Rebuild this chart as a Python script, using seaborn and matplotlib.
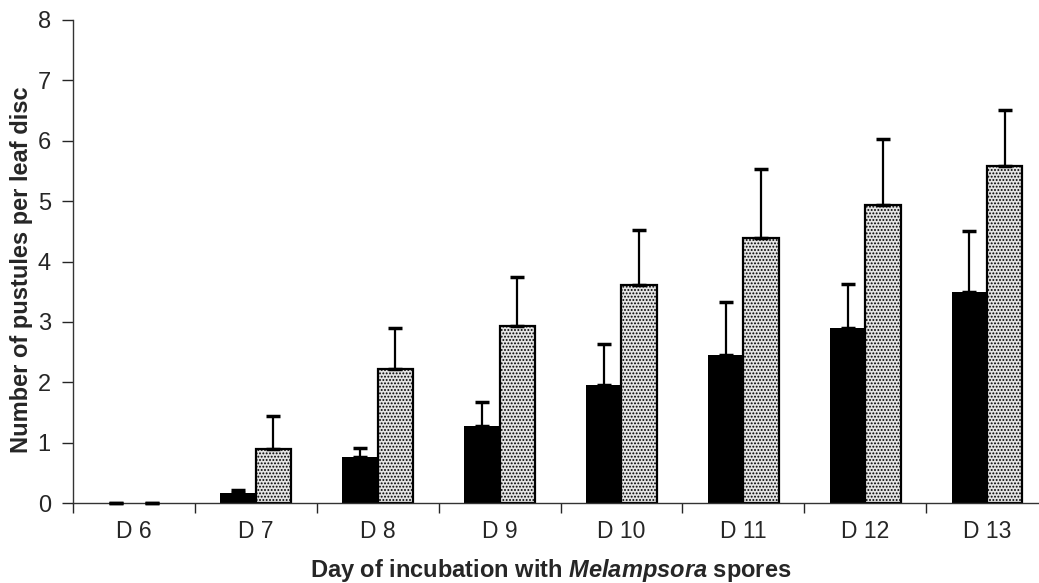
import matplotlib
matplotlib.use("Agg")
import matplotlib.pyplot as plt
import seaborn as sns
import pandas as pd
import numpy as np

days = ["D 6", "D 7", "D 8", "D 9", "D 10", "D 11", "D 12", "D 13"]
series_names = ["Series 1", "Series 2"]
black_vals = [0.0, 0.17, 0.76, 1.27, 1.95, 2.45, 2.90, 3.49]
black_err = [0.0, 0.05, 0.15, 0.40, 0.68, 0.88, 0.73, 1.02]
dotted_vals = [0.0, 0.89, 2.22, 2.93, 3.61, 4.39, 4.93, 5.58]
dotted_err = [0.0, 0.55, 0.68, 0.81, 0.91, 1.14, 1.10, 0.93]
y_ticks = [0, 1, 2, 3, 4, 5, 6, 7, 8]

sns.set_theme(style="white")
plt.rcParams["font.family"] = ["Liberation Sans", "DejaVu Sans"]
plt.rcParams["mathtext.fontset"] = "custom"
plt.rcParams["mathtext.it"] = "Liberation Sans:italic:bold"
plt.rcParams["mathtext.rm"] = "Liberation Sans:bold"
plt.rcParams["hatch.linewidth"] = 0.9

df = pd.DataFrame({
    "day": days * 2,
    "series": [series_names[0]] * len(days) + [series_names[1]] * len(days),
    "value": black_vals + dotted_vals,
})

fig = plt.figure(figsize=(10.39, 5.83), dpi=100)
ax = fig.add_axes([73 / 1039, 80 / 583, (1048 - 73) / 1039, (503 - 20) / 583])

sns.barplot(data=df, x="day", y="value", hue="series", order=days,
            hue_order=series_names, palette=["black", "white"],
            width=0.58, errorbar=None, legend=False, ax=ax,
            edgecolor="black", linewidth=1.6, saturation=1)

n = len(days)
patches = [p for p in ax.patches if hasattr(p, "get_x")][:2 * n]
for i, p in enumerate(patches):
    if i >= n:
        p.set_hatch(".....")
        p.set_facecolor("#e4e4e4")
        if dotted_vals[i - n] == 0:
            p.set_linewidth(0)
    else:
        p.set_linewidth(0)
errs = black_err + dotted_err
vals = black_vals + dotted_vals
for p, v, e in zip(patches, vals, errs):
    cx = p.get_x() + p.get_width() / 2
    ax.errorbar([cx], [v], yerr=[[0], [e]], fmt="none", ecolor="black",
                elinewidth=1.6, capsize=5, capthick=2.5, zorder=5, clip_on=False)

ax.set_ylim(0, 8)
ax.set_xlim(-0.5, n - 0.5)
ax.set_yticks(y_ticks)
ax.set_yticklabels([str(t) for t in y_ticks], fontsize=17)
ax.set_xticks(range(n))
ax.set_xticklabels(days, fontsize=16.5)
ax.tick_params(axis="x", length=0, pad=12)
ax.tick_params(axis="y", length=8, width=1, direction="out", left=True, pad=8)
ax.set_xticks(np.arange(-0.5, n, 1), minor=True)
ax.tick_params(axis="x", which="minor", length=7, width=1, direction="out", bottom=True)

for s in ["top", "right"]:
    ax.spines[s].set_visible(False)
for s in ["left", "bottom"]:
    ax.spines[s].set_color("#333333")
    ax.spines[s].set_linewidth(1)

ax.set_ylabel("Number of pustules per leaf disc", fontsize=17, fontweight="bold")
ax.yaxis.set_label_coords(-(73 - 22) / 975, (503 - 270) / 483)
ax.set_xlabel(r"Day of incubation with $\mathit{Melampsora}$ spores", fontsize=17,
              fontweight="bold")
ax.xaxis.set_label_coords((551 - 73) / 975, -(570 - 503) / 483)
ax.xaxis.label.set_va("center")
ax.yaxis.label.set_va("center")

fig.savefig("out.png", dpi=100)
